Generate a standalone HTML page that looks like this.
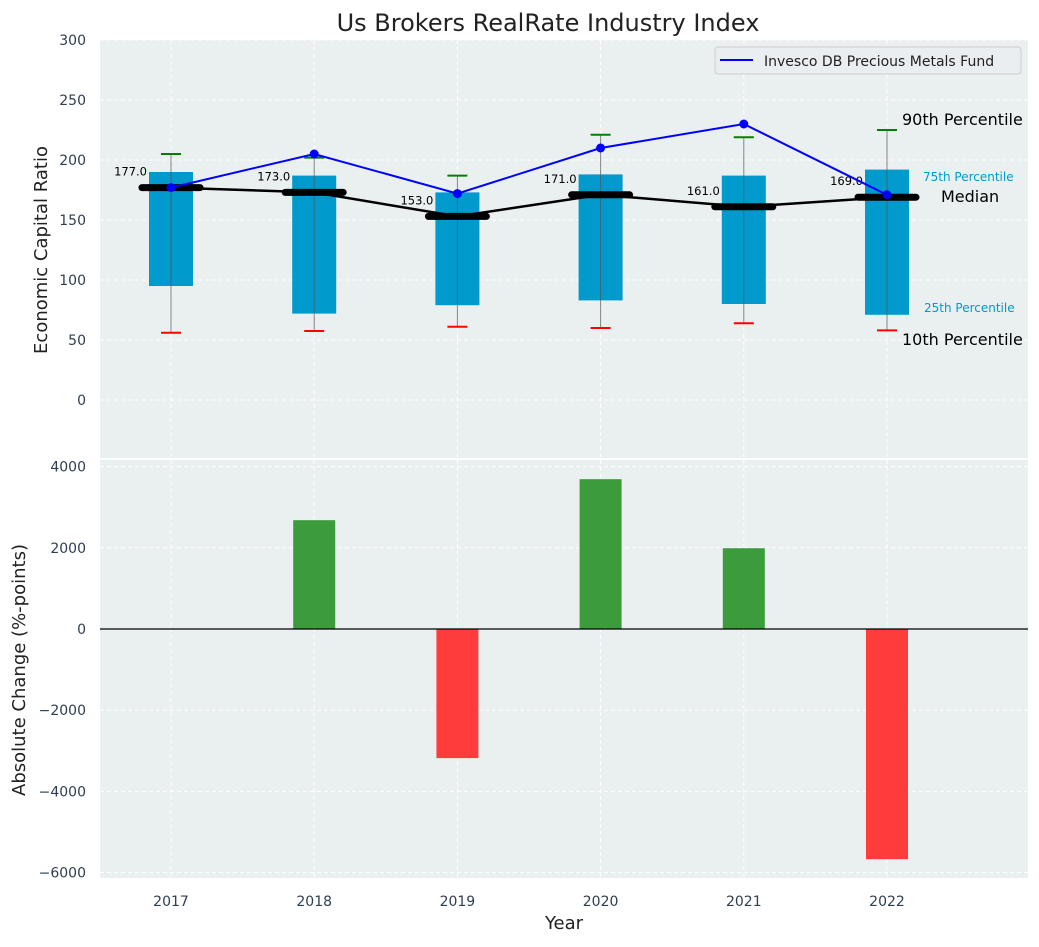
<!DOCTYPE html>
<html><head><meta charset="utf-8"><style>
body{margin:0;background:#fff;font-family:"Liberation Sans","DejaVu Sans",sans-serif}
svg text{font-family:"DejaVu Sans","Liberation Sans",sans-serif}
</style></head><body>
<svg id="c" width="1039" height="942" xmlns="http://www.w3.org/2000/svg"></svg>
<script>
const years=[2017,2018,2019,2020,2021,2022];
const p10=[56,57.5,61,60,64,58];
const q1=[95,72,79,83,80,71];
const median=[177,173,153,171,161,169];
const q3=[190,187,173,188,187,192];
const p90=[205,202,187,221,219,225];
const fund=[177,205,172,210,230,171];
const change=[0,2680,-3180,3690,1990,-5670];
const topTicks=[0,50,100,150,200,250,300];
const botTicks=[-6000,-4000,-2000,0,2000,4000];

const NS="http://www.w3.org/2000/svg";
const svg=document.getElementById('c');
function el(tag,attrs,parent){const e=document.createElementNS(NS,tag);for(const k in attrs)e.setAttribute(k,attrs[k]);(parent||svg).appendChild(e);return e;}
const X0=100,X1=1028;
const xs=y=>171+(y-2017)*143.2;
const yT=v=>400-1.2*v;
const yB=v=>629-0.0406*v;

const bgT=el('rect',{x:X0,y:40,width:X1-X0,height:418,fill:'#eaeff0'});

const bgB=el('rect',{x:X0,y:460,width:X1-X0,height:418,fill:'#eaeff0'});


topTicks.forEach(t=>{el('line',{x1:X0,x2:X1,y1:yT(t),y2:yT(t),stroke:'#fff','stroke-dasharray':'4,3','stroke-width':1});
 const tx=el('text',{x:86,y:yT(t)+5,'text-anchor':'end','font-size':14,fill:'#2e3e50'});tx.textContent=t;
 });
botTicks.forEach(t=>{el('line',{x1:X0,x2:X1,y1:yB(t),y2:yB(t),stroke:'#fff','stroke-dasharray':'4,3','stroke-width':1});
 const tx=el('text',{x:86,y:yB(t)+5,'text-anchor':'end','font-size':14,fill:'#2e3e50'});tx.textContent=(t<0?'\u2212'+(-t):t);
 });
years.forEach(y=>{el('line',{x1:xs(y),x2:xs(y),y1:40,y2:458,stroke:'#fff','stroke-dasharray':'4,3'});
 el('line',{x1:xs(y),x2:xs(y),y1:460,y2:878,stroke:'#fff','stroke-dasharray':'4,3'});
 const tx=el('text',{x:xs(y),y:906,'text-anchor':'middle','font-size':14,fill:'#2e3e50'});tx.textContent=y;
 });

years.forEach((y,i)=>{const x=xs(y);
 const b=el('rect',{x:x-22,y:yT(q3[i]),width:44,height:yT(q1[i])-yT(q3[i]),fill:'#009bcc'});
 
 el('line',{x1:x,x2:x,y1:yT(p90[i]),y2:yT(p10[i]),stroke:'#555','stroke-width':1,opacity:0.7});
 el('line',{x1:x-10,x2:x+10,y1:yT(p90[i]),y2:yT(p90[i]),stroke:'green','stroke-width':2});
 el('line',{x1:x-10,x2:x+10,y1:yT(p10[i]),y2:yT(p10[i]),stroke:'red','stroke-width':2});
});
const mp=el('polyline',{points:years.map((y,i)=>xs(y)+','+yT(median[i])).join(' '),fill:'none',stroke:'#000','stroke-width':2.5});

years.forEach((y,i)=>{const x=xs(y);
 const m=el('line',{x1:x-29,x2:x+29,y1:yT(median[i]),y2:yT(median[i]),stroke:'#000','stroke-width':7,'stroke-linecap':'round'});
 
 const t=el('text',{x:x-24,y:yT(median[i])-12,'text-anchor':'end','font-size':11.5,fill:'#000'});t.textContent=median[i].toFixed(1);
 
});
const fl=el('polyline',{points:years.map((y,i)=>xs(y)+','+yT(fund[i])).join(' '),fill:'none',stroke:'#0000ff','stroke-width':2});

years.forEach((y,i)=>{const c=el('circle',{cx:xs(y),cy:yT(fund[i]),r:4.5,fill:'#0000ff'});
 });

[['90th Percentile',902,125,16,'#000'],['75th Percentile',923,181,12,'#009bcc'],['Median',941,202,16,'#000'],['25th Percentile',924,312,12,'#009bcc'],['10th Percentile',902,345,16,'#000']].forEach(a=>{
 const t=el('text',{x:a[1],y:a[2],'font-size':a[3],fill:a[4]});t.textContent=a[0];
 });

const lg=el('g',{});
el('rect',{x:715,y:47,width:306,height:27,rx:3,fill:'#eaeef0',stroke:'#ccc'},lg);
el('line',{x1:720,x2:753,y1:60,y2:60,stroke:'#0000ff','stroke-width':2},lg);
const lt=el('text',{x:764,y:66,'font-size':14,fill:'#222'},lg);lt.textContent='Invesco DB Precious Metals Fund';

years.forEach((y,i)=>{const v=change[i];if(v===0)return;
 const r=el('rect',{x:xs(y)-21,y:Math.min(yB(v),yB(0)),width:42,height:Math.abs(yB(v)-yB(0)),fill:v>0?'#3c9c3c':'#ff3c3c'});
 });
el('line',{x1:X0,x2:X1,y1:yB(0),y2:yB(0),stroke:'#000','stroke-width':1.2});

const ti=el('text',{x:548,y:31,'text-anchor':'middle','font-size':24,fill:'#222'});ti.textContent='Us Brokers RealRate Industry Index';

const yl=el('text',{x:0,y:0,'text-anchor':'middle','font-size':18,fill:'#222',transform:'translate(47,250) rotate(-90)'});yl.textContent='Economic Capital Ratio';

const yl2=el('text',{x:0,y:0,'text-anchor':'middle','font-size':18,fill:'#222',transform:'translate(25,670) rotate(-90)'});yl2.textContent='Absolute Change (%-points)';

const xl=el('text',{x:564,y:929,'text-anchor':'middle','font-size':18,fill:'#222'});xl.textContent='Year';

</script>
</body></html>
